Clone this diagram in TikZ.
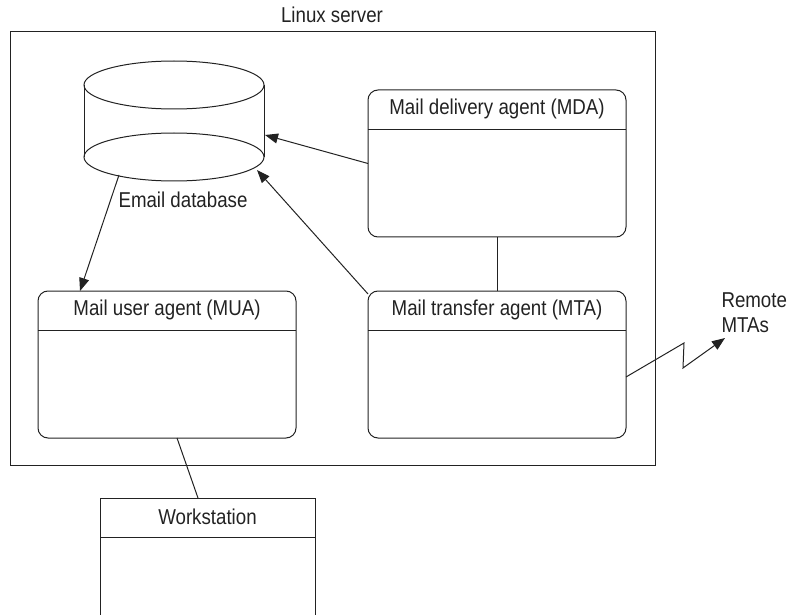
\documentclass[tikz,border=0pt]{standalone}
\usepackage{fontspec}
\setmainfont{Liberation Sans}[FakeStretch=0.87]
\usetikzlibrary{arrows.meta}
\definecolor{ink}{HTML}{222222}
\begin{document}
\begin{tikzpicture}[x=1pt,y=-1pt,line width=1pt,draw=ink,text=ink,
  font=\fontsize{21.5}{25}\selectfont,
  agent/.style={draw,rounded corners=10pt,minimum width=258pt,minimum height=147pt,inner sep=0pt,outer sep=0pt},
  wsbox/.style={draw,minimum width=215pt,minimum height=132pt,inner sep=0pt,outer sep=0pt},
  arr/.style={-{Triangle[length=13pt,width=10pt]}},
  lbl/.style={inner sep=0pt}]
\useasboundingbox (0,0) rectangle (788,615);
% server frame
\node[draw,minimum width=645pt,minimum height=433pt,inner sep=0pt,outer sep=0pt] (srv) at (332.5,248.5) {};
\node[lbl] (srvlbl) at (332,15) {Linux server};
% database cylinder
\draw (84,85) -- (84,157) (264,85) -- (264,157);
\draw (174,85) ellipse [x radius=90, y radius=24];
\draw (174,157) ellipse [x radius=90, y radius=24];
\coordinate (dbA) at (265,135);
\coordinate (dbB) at (257,170);
\coordinate (dbC) at (119,175);
\node[lbl] (dblbl) at (183,200) {Email database};
% agents
\node[agent] (mda) at (497,163.5) {};
\draw ([yshift=-40pt]mda.north west) -- ([yshift=-40pt]mda.north east);
\node[lbl] at ([yshift=-19pt]mda.north) {Mail delivery agent (MDA)};
\node[agent] (mta) at (497,364.5) {};
\draw ([yshift=-39pt]mta.north west) -- ([yshift=-39pt]mta.north east);
\node[lbl] at ([yshift=-19pt]mta.north) {Mail transfer agent (MTA)};
\node[agent] (mua) at (167,364.5) {};
\draw ([yshift=-39pt]mua.north west) -- ([yshift=-39pt]mua.north east);
\node[lbl] at ([yshift=-19pt]mua.north) {Mail user agent (MUA)};
% workstation
\node[wsbox] (ws) at (207.5,564) {};
\draw ([yshift=-39pt]ws.north west) -- ([yshift=-39pt]ws.north east);
\node[lbl] at ([yshift=-19pt]ws.north) {Workstation};
% remote
\node[lbl,anchor=west,align=left] (remote) at (721,313) {Remote\\MTAs};
% connectors
\draw[arr] (mda.west) -- (dbA);
\draw[arr] ([yshift=-3pt]mta.north west) -- (dbB);
\draw[arr] (dbC) -- ([xshift=-87pt]mua.north);
\draw (mda.south) -- (mta.north);
\draw ([xshift=10pt]mua.south) -- ([xshift=-9.5pt]ws.north);
\coordinate (z1) at (684,343);
\coordinate (z2) at (683,368);
\coordinate (zt) at (725,338);
\draw[arr] ([yshift=-12.5pt]mta.east) -- (z1) -- (z2) -- (zt);
\end{tikzpicture}
\end{document}
